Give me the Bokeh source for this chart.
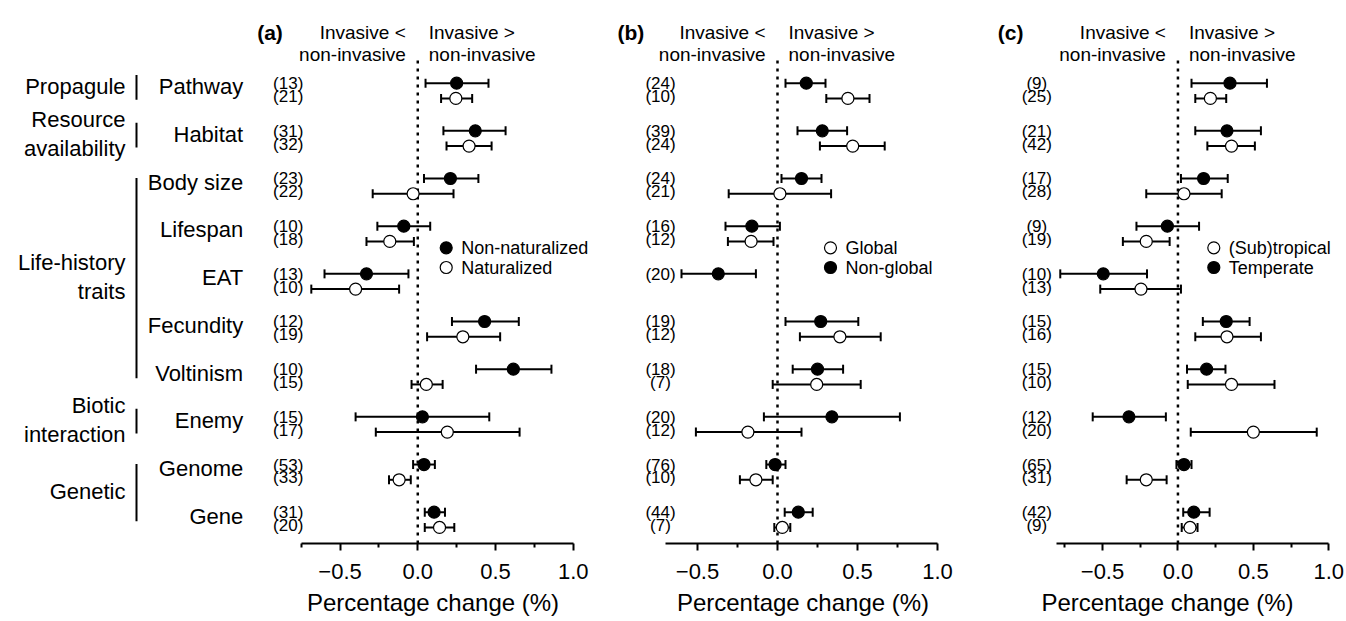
import numpy as np
from bokeh.plotting import figure
from bokeh.models import Range1d, ColumnDataSource, FixedTicker
from bokeh.layouts import row
from bokeh.embed import file_html
from bokeh.resources import INLINE
from bokeh.core.properties import value

# ---------------- data ----------------
traits = ["Pathway", "Habitat", "Body size", "Lifespan", "EAT",
          "Fecundity", "Voltinism", "Enemy", "Genome", "Gene"]
groups = ["Propagule", "Resource\navailability", "Life-history\ntraits",
          "Biotic\ninteraction", "Genetic"]
group_first = [0, 1, 2, 7, 8]
group_last = [0, 1, 6, 7, 9]

tick_vals = [-0.5, 0.0, 0.5, 1.0]
tick_text = ["\u22120.5", "0.0", "0.5", "1.0"]
minor_vals = [-0.75, -0.25, 0.25, 0.75]
x_label = "Percentage change (%)"
head_left = ["Invasive <", "non-invasive"]
head_right = ["Invasive >", "non-invasive"]

nan = np.nan

# (a) Non-naturalized (filled) vs Naturalized (open)
a_fill_mean = [0.25, 0.37, 0.21, -0.09, -0.33, 0.43, 0.615, 0.03, 0.04, 0.105]
a_fill_lo = [0.05, 0.165, 0.04, -0.26, -0.60, 0.22, 0.375, -0.40, -0.03, 0.045]
a_fill_hi = [0.455, 0.565, 0.39, 0.08, -0.06, 0.65, 0.86, 0.46, 0.11, 0.175]
a_fill_n = [13, 31, 23, 10, 13, 12, 10, 15, 53, 31]
a_open_mean = [0.245, 0.33, -0.03, -0.18, -0.40, 0.29, 0.055, 0.19, -0.12, 0.14]
a_open_lo = [0.15, 0.185, -0.29, -0.33, -0.685, 0.06, -0.04, -0.27, -0.185, 0.045]
a_open_hi = [0.35, 0.475, 0.23, -0.025, -0.12, 0.53, 0.16, 0.655, -0.045, 0.235]
a_open_n = [21, 32, 22, 18, 10, 19, 15, 17, 33, 20]

# (b) Non-global (filled) vs Global (open)
b_fill_mean = [0.18, 0.28, 0.15, -0.16, -0.37, 0.27, 0.25, 0.34, -0.015, 0.13]
b_fill_lo = [0.05, 0.125, 0.025, -0.325, -0.60, 0.05, 0.095, -0.085, -0.07, 0.045]
b_fill_hi = [0.30, 0.435, 0.275, 0.015, -0.135, 0.505, 0.41, 0.765, 0.05, 0.22]
b_fill_n = [24, 39, 24, 16, 20, 19, 18, 20, 76, 44]
b_open_mean = [0.44, 0.47, 0.015, -0.165, nan, 0.39, 0.245, -0.185, -0.135, 0.03]
b_open_lo = [0.305, 0.265, -0.305, -0.31, nan, 0.14, -0.03, -0.51, -0.235, -0.02]
b_open_hi = [0.575, 0.67, 0.335, -0.025, nan, 0.645, 0.52, 0.15, -0.03, 0.08]
b_open_n = [10, 24, 21, 12, None, 12, 7, 12, 10, 7]

# (c) Temperate (filled) vs (Sub)tropical (open)
c_fill_mean = [0.345, 0.325, 0.17, -0.07, -0.495, 0.32, 0.19, -0.325, 0.04, 0.105]
c_fill_lo = [0.09, 0.115, 0.02, -0.275, -0.78, 0.165, 0.06, -0.565, -0.01, 0.035]
c_fill_hi = [0.59, 0.55, 0.33, 0.14, -0.205, 0.475, 0.315, -0.08, 0.09, 0.21]
c_fill_n = [9, 21, 17, 9, 10, 15, 15, 12, 65, 42]
c_open_mean = [0.215, 0.355, 0.04, -0.21, -0.245, 0.325, 0.355, 0.50, -0.21, 0.08]
c_open_lo = [0.115, 0.195, -0.21, -0.365, -0.515, 0.115, 0.065, 0.085, -0.34, 0.025]
c_open_hi = [0.32, 0.51, 0.29, -0.055, 0.02, 0.55, 0.64, 0.92, -0.075, 0.13]
c_open_n = [25, 42, 28, 19, 13, 16, 10, 20, 31, 9]

# ---------------- layout / style ----------------
FONT = "Liberation Sans"
ROW_PX = 47.67          # pixels between trait rows
ROW0 = 90.3             # screen y of first row centre
PLOT_TOP = 60           # screen y where the data area starts
FRAME_H = 543           # frame spans from page top to the x axis
H = 619
AXIS_W = 272            # pixel length of each x axis
Y_TOP = -ROW0 / ROW_PX
Y_BOT = Y_TOP + FRAME_H / ROW_PX
y_range = Range1d(start=Y_BOT, end=Y_TOP)
OFF = 0.16


def sy(px):
    """screen y (px from top) -> data y"""
    return Y_TOP + px / ROW_PX


rows_idx = np.arange(len(traits))


def new_fig(width, x_range, bottom):
    p = figure(width=width, height=H, x_range=x_range, y_range=y_range,
               min_border_left=0, min_border_right=0, min_border_top=0,
               min_border_bottom=bottom, y_axis_location=None,
               x_axis_location=("below" if bottom else None),
               toolbar_location=None, output_backend="svg", tools="")
    p.outline_line_color = None
    p.grid.grid_line_color = None
    p.background_fill_color = "white"
    p.border_fill_color = "white"
    return p


# ---------------- left label column ----------------
LW = 250
lab = new_fig(LW, Range1d(0, LW), 0)
lab.min_border_bottom = H - FRAME_H
lab.text(x=[242.7] * len(traits), y=rows_idx - 0.08, text=traits,
         text_align="right", text_baseline="middle",
         text_font=value(FONT), text_font_size="22px", text_color="black")

g_first = np.array(group_first, dtype=float)
g_last = np.array(group_last, dtype=float)
g_mid = (g_first + g_last) / 2
lab.text(x=[125] * len(groups), y=g_mid - 0.1, text=groups,
         text_align="right", text_baseline="middle",
         text_font=value(FONT), text_font_size="22px", text_color="black",
         text_line_height=1.15)
half = np.where(g_last > g_first, (g_last - g_first) / 2 + 0.1, 0.26)
lab.segment(x0=[136] * len(groups), y0=g_mid - 0.07 - half,
            x1=[136] * len(groups), y1=g_mid - 0.07 + half,
            line_color="black", line_width=2)


# ---------------- panels ----------------
def make_panel(letter, xs, fig_left, width, axis_left, fill, opn,
               legend_order, legend_px, n_off, letter_off):
    scale = AXIS_W / (1.0 - xs)
    x0 = xs - (axis_left - fig_left) / scale
    x1 = 1.0 + (fig_left + width - axis_left - AXIS_W) / scale
    p = new_fig(width, Range1d(x0, x1), H - FRAME_H)

    # dotted zero line
    p.segment(x0=[0], y0=[sy(PLOT_TOP)], x1=[0], y1=[Y_BOT],
              line_color="black", line_width=2.5, line_dash="3 5")

    for (mean, lo, hi, n, off, fc) in [fill + (-OFF, "black"),
                                       opn + (OFF, "white")]:
        mean = np.array(mean, dtype=float)
        lo = np.array(lo, dtype=float)
        hi = np.array(hi, dtype=float)
        ok = ~np.isnan(mean)
        src = ColumnDataSource(dict(
            y=rows_idx[ok] + off, m=mean[ok], lo=lo[ok], hi=hi[ok],
            ny=rows_idx[ok] + (-0.15 if off < 0 else 0.12),
            nx=[xs] * int(ok.sum()),
            t=["(%d)" % n[i] for i in range(len(n)) if ok[i]]))
        p.segment(x0="lo", y0="y", x1="hi", y1="y", source=src,
                  line_color="black", line_width=2)
        for col in ("lo", "hi"):
            p.scatter(x=col, y="y", source=src, marker="dash", size=9,
                      angle=np.pi / 2, line_color="black", line_width=2)
        p.scatter(x="m", y="y", source=src, marker="circle", size=12,
                  fill_color=fc, line_color="black", line_width=1.2)
        p.text(x="nx", y="ny", text="t", source=src, x_offset=n_off,
               text_align="center", text_baseline="middle",
               text_font=value(FONT), text_font_size="17px",
               text_color="black")

    # legend
    lx = xs + legend_px / scale
    lsrc = ColumnDataSource(dict(
        x=[lx, lx], y=[sy(247.3), sy(267)],
        t=[nm for nm, _ in legend_order], fc=[c for _, c in legend_order]))
    p.scatter(x="x", y="y", source=lsrc, marker="circle", size=12,
              fill_color="fc", line_color="black", line_width=1.2)
    p.text(x="x", y="y", text="t", source=lsrc, x_offset=15,
           text_align="left", text_baseline="middle", text_font=value(FONT),
           text_font_size="18px", text_color="black")

    # headers
    hy = [sy(31.7), sy(54.3)]
    p.text(x=[0, 0], y=hy, text=head_left, x_offset=-12,
           text_align="right", text_baseline="alphabetic",
           text_font=value(FONT), text_font_size="19px", text_color="black")
    p.text(x=[0, 0], y=hy, text=head_right, x_offset=11,
           text_align="left", text_baseline="alphabetic",
           text_font=value(FONT), text_font_size="19px", text_color="black")
    p.text(x=[xs], y=[sy(31.7)], text=[letter], x_offset=letter_off,
           text_align="left", text_baseline="alphabetic",
           text_font=value(FONT), text_font_size="21px",
           text_font_style="bold", text_color="black")

    ax = p.xaxis[0]
    ax.bounds = (xs, 1.0)
    ax.ticker = FixedTicker(ticks=tick_vals,
                            minor_ticks=[m for m in minor_vals if m >= xs])
    ax.major_label_overrides = {v: t for v, t in zip(tick_vals, tick_text)}
    ax.axis_label = x_label
    ax.axis_label_text_font = FONT
    ax.axis_label_text_font_size = "24px"
    ax.axis_label_text_font_style = "normal"
    ax.axis_label_text_color = "black"
    ax.axis_label_standoff = 7
    ax.major_label_text_font = FONT
    ax.major_label_text_font_size = "22px"
    ax.major_label_text_color = "black"
    ax.major_label_standoff = 13
    ax.axis_line_width = 2
    ax.axis_line_color = "black"
    ax.major_tick_line_width = 2
    ax.minor_tick_line_width = 2
    ax.major_tick_line_color = "black"
    ax.minor_tick_line_color = "black"
    ax.major_tick_out = 7
    ax.major_tick_in = 0
    ax.minor_tick_out = 4
    ax.minor_tick_in = 0
    return p


pa = make_panel("(a)", -0.75, 250, 365, 300.7,
                (a_fill_mean, a_fill_lo, a_fill_hi, a_fill_n),
                (a_open_mean, a_open_lo, a_open_hi, a_open_n),
                [("Non-naturalized", "black"), ("Naturalized", "white")],
                145, -13, -44)
pb = make_panel("(b)", -0.70, 615, 375, 665,
                (b_fill_mean, b_fill_lo, b_fill_hi, b_fill_n),
                (b_open_mean, b_open_lo, b_open_hi, b_open_n),
                [("Global", "white"), ("Non-global", "black")],
                165, -5, -48)
pc = make_panel("(c)", -0.803, 990, 354, 1056.3,
                (c_fill_mean, c_fill_lo, c_fill_hi, c_fill_n),
                (c_open_mean, c_open_lo, c_open_hi, c_open_n),
                [("(Sub)tropical", "white"), ("Temperate", "black")],
                157, -20, -59)

layout = row(lab, pa, pb, pc)
open("out.html", "w").write(file_html(layout, INLINE))
